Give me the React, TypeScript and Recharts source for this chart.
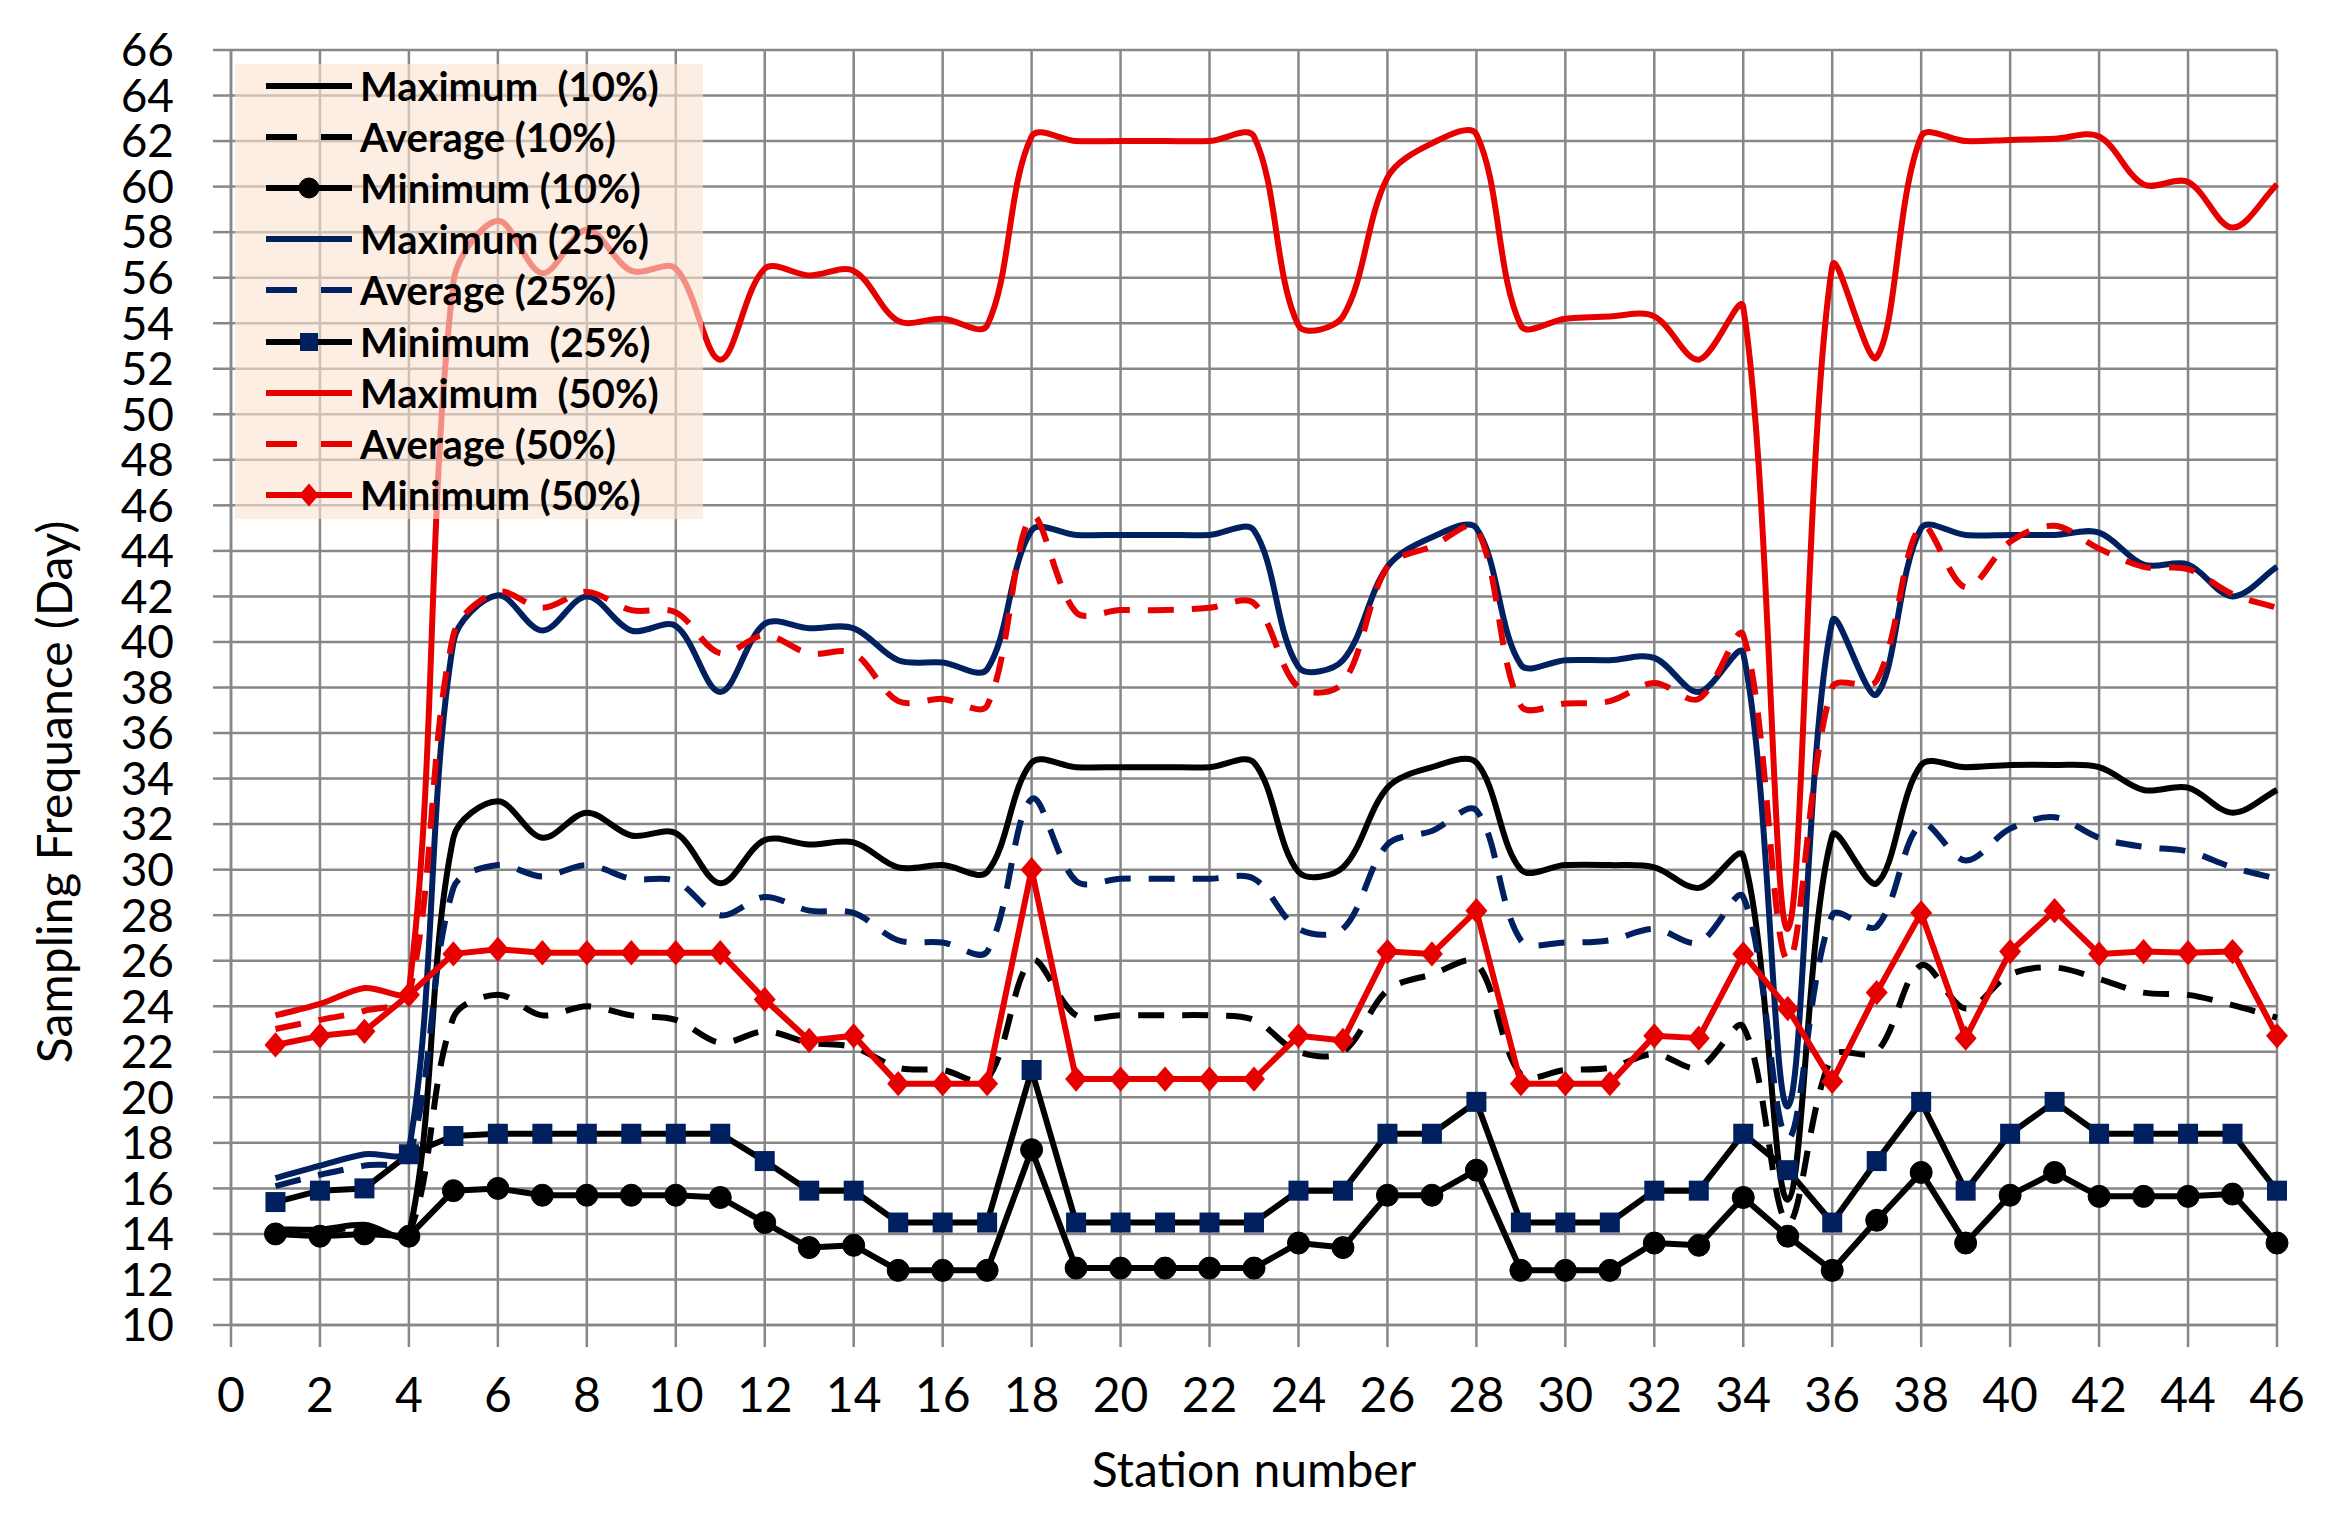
import React from 'react';
import { LineChart, Line, XAxis, YAxis, CartesianGrid, Legend } from 'recharts';

// ---------------- data ----------------
const stations = [1, 2, 3, 4, 5, 6, 7, 8, 9, 10, 11, 12, 13, 14, 15, 16, 17, 18, 19, 20, 21, 22, 23, 24, 25, 26, 27, 28, 29, 30, 31, 32, 33, 34, 35, 36, 37, 38, 39, 40, 41, 42, 43, 44, 45, 46];

const max10 = [14.2, 14.2, 14.4, 14.0, 31.4, 33.0, 31.4, 32.5, 31.5, 31.6, 29.4, 31.3, 31.1, 31.2, 30.1, 30.2, 29.9, 34.7, 34.5, 34.5, 34.5, 34.5, 34.7, 29.9, 30.1, 33.6, 34.5, 34.7, 30.0, 30.2, 30.2, 30.1, 29.2, 30.6, 15.5, 31.5, 29.4, 34.6, 34.5, 34.6, 34.6, 34.5, 33.5, 33.6, 32.5, 33.5];
const avg10 = [14.1, 14.1, 14.3, 14.0, 23.5, 24.5, 23.6, 24.0, 23.6, 23.4, 22.4, 22.9, 22.4, 22.2, 21.3, 21.2, 20.8, 26.0, 23.6, 23.6, 23.6, 23.6, 23.4, 22.0, 22.0, 24.7, 25.4, 25.9, 21.0, 21.2, 21.3, 21.9, 21.3, 23.1, 14.5, 21.8, 22.0, 25.8, 23.9, 25.4, 25.7, 25.2, 24.6, 24.5, 24.05, 23.5];
const min10 = [14.0, 13.9, 14.0, 13.9, 15.9, 16.0, 15.7, 15.7, 15.7, 15.7, 15.6, 14.5, 13.4, 13.5, 12.4, 12.4, 12.4, 17.7, 12.5, 12.5, 12.5, 12.5, 12.5, 13.6, 13.4, 15.7, 15.7, 16.8, 12.4, 12.4, 12.4, 13.6, 13.5, 15.6, 13.9, 12.4, 14.6, 16.7, 13.6, 15.7, 16.7, 15.65, 15.65, 15.65, 15.75, 13.6];
const max25 = [16.45, 17.0, 17.5, 17.7, 40.0, 42.05, 40.5, 42.0, 40.5, 40.7, 37.8, 40.8, 40.6, 40.6, 39.2, 39.1, 38.8, 44.9, 44.7, 44.7, 44.7, 44.7, 44.9, 38.9, 39.2, 43.3, 44.6, 45.0, 39.0, 39.2, 39.2, 39.3, 37.8, 39.5, 19.6, 40.9, 37.7, 45.0, 44.7, 44.7, 44.7, 44.8, 43.4, 43.4, 42.0, 43.3];
const avg25 = [16.1, 16.6, 17.0, 17.4, 29.2, 30.2, 29.7, 30.2, 29.6, 29.5, 28.0, 28.8, 28.2, 28.1, 26.9, 26.8, 26.4, 33.1, 29.5, 29.6, 29.6, 29.6, 29.6, 27.4, 27.4, 31.1, 31.7, 32.6, 26.9, 26.8, 26.9, 27.4, 26.8, 28.8, 18.2, 28.0, 27.5, 32.0, 30.4, 31.8, 32.3, 31.4, 31.0, 30.8, 30.1, 29.6];
const min25 = [15.4, 15.9, 16.0, 17.5, 18.3, 18.4, 18.4, 18.4, 18.4, 18.4, 18.4, 17.2, 15.9, 15.9, 14.5, 14.5, 14.5, 21.2, 14.5, 14.5, 14.5, 14.5, 14.5, 15.9, 15.9, 18.4, 18.4, 19.8, 14.5, 14.5, 14.5, 15.9, 15.9, 18.4, 16.8, 14.5, 17.2, 19.8, 15.9, 18.4, 19.8, 18.4, 18.4, 18.4, 18.4, 15.9];
const max50 = [23.6, 24.1, 24.8, 24.7, 55.8, 58.5, 56.2, 58.1, 56.3, 56.4, 52.4, 56.4, 56.1, 56.3, 54.1, 54.2, 53.9, 62.2, 62.0, 62.0, 62.0, 62.0, 62.2, 53.9, 54.3, 60.4, 61.9, 62.3, 53.9, 54.2, 54.3, 54.3, 52.4, 54.7, 27.4, 56.5, 52.5, 62.2, 62.0, 62.05, 62.1, 62.2, 60.1, 60.2, 58.2, 60.1];
const avg50 = [23.0, 23.4, 23.8, 24.5, 40.3, 42.2, 41.5, 42.2, 41.4, 41.3, 39.5, 40.3, 39.5, 39.5, 37.4, 37.5, 37.2, 45.5, 41.3, 41.4, 41.4, 41.5, 41.7, 38.0, 38.2, 43.3, 44.2, 45.0, 37.2, 37.3, 37.4, 38.2, 37.5, 40.3, 26.0, 38.0, 38.3, 45.1, 42.4, 44.4, 45.1, 44.1, 43.3, 43.2, 42.1, 41.5];
const min50 = [22.3, 22.7, 22.9, 24.5, 26.3, 26.5, 26.35, 26.35, 26.35, 26.35, 26.35, 24.3, 22.5, 22.7, 20.6, 20.6, 20.6, 30.0, 20.8, 20.8, 20.8, 20.8, 20.8, 22.7, 22.5, 26.4, 26.3, 28.2, 20.6, 20.6, 20.6, 22.7, 22.6, 26.3, 23.9, 20.7, 24.6, 28.1, 22.6, 26.4, 28.2, 26.3, 26.4, 26.35, 26.4, 22.7];

const xTicks = [0, 2, 4, 6, 8, 10, 12, 14, 16, 18, 20, 22, 24, 26, 28, 30, 32, 34, 36, 38, 40, 42, 44, 46];
const yTicks = [10, 12, 14, 16, 18, 20, 22, 24, 26, 28, 30, 32, 34, 36, 38, 40, 42, 44, 46, 48, 50, 52, 54, 56, 58, 60, 62, 64, 66];

const data = stations.map((s, i) => ({
  station: s,
  max10: max10[i], avg10: avg10[i], min10: min10[i],
  max25: max25[i], avg25: avg25[i], min25: min25[i],
  max50: max50[i], avg50: avg50[i], min50: min50[i],
}));

// ---------------- styles ----------------
const BLACK = '#000000';
const NAVY = '#002060';
const RED = '#E60000';
const GRID = '#878787';
const FONT = 'Lato, "Open Sans", sans-serif';

// Excel-like smoothing: Catmull-Rom tangents, arms scaled by chord lengths
const smoothCurve: any = (context: any) => {
  let pts: number[][] = [];
  const dist = (a: number[], b: number[]) => Math.hypot(b[0] - a[0], b[1] - a[1]);
  return {
    areaStart() {},
    areaEnd() {},
    lineStart() { pts = []; },
    point(x: number, y: number) { pts.push([+x, +y]); },
    lineEnd() {
      const n = pts.length;
      if (!n) return;
      context.moveTo(pts[0][0], pts[0][1]);
      for (let i = 0; i < n - 1; i++) {
        const p0 = pts[i - 1] || pts[i];
        const p1 = pts[i];
        const p2 = pts[i + 1];
        const p3 = pts[i + 2] || p2;
        const d01 = dist(p0, p1);
        const d12 = dist(p1, p2);
        const d23 = dist(p2, p3);
        const f1 = d01 + d12 > 0 ? d12 / (d01 + d12) / 3 : 0;
        const f2 = d12 + d23 > 0 ? d12 / (d12 + d23) / 3 : 0;
        context.bezierCurveTo(
          p1[0] + (p2[0] - p0[0]) * f1, p1[1] + (p2[1] - p0[1]) * f1,
          p2[0] - (p3[0] - p1[0]) * f2, p2[1] - (p3[1] - p1[1]) * f2,
          p2[0], p2[1]
        );
      }
    },
  };
};

type Marker = 'circle' | 'square' | 'diamond' | null;
interface SeriesCfg { key: string; name: string; color: string; dash: boolean; marker: Marker; markerColor: string; }

const SERIES: SeriesCfg[] = [
  { key: 'max10', name: 'Maximum  (10%)', color: BLACK, dash: false, marker: null, markerColor: BLACK },
  { key: 'avg10', name: 'Average (10%)', color: BLACK, dash: true, marker: null, markerColor: BLACK },
  { key: 'min10', name: 'Minimum (10%)', color: BLACK, dash: false, marker: 'circle', markerColor: BLACK },
  { key: 'max25', name: 'Maximum (25%)', color: NAVY, dash: false, marker: null, markerColor: NAVY },
  { key: 'avg25', name: 'Average (25%)', color: NAVY, dash: true, marker: null, markerColor: NAVY },
  { key: 'min25', name: 'Minimum  (25%)', color: BLACK, dash: false, marker: 'square', markerColor: NAVY },
  { key: 'max50', name: 'Maximum  (50%)', color: RED, dash: false, marker: null, markerColor: RED },
  { key: 'avg50', name: 'Average (50%)', color: RED, dash: true, marker: null, markerColor: RED },
  { key: 'min50', name: 'Minimum (50%)', color: RED, dash: false, marker: 'diamond', markerColor: RED },
];

const DASH = '26 18';
const LINE_W = 6;

function markerShape(kind: Marker, cx: number, cy: number, color: string, size: number, key?: any) {
  if (kind === 'circle') return <circle key={key} cx={cx} cy={cy} r={size} fill={color} stroke={color} strokeWidth={1} />;
  if (kind === 'square') return <rect key={key} x={cx - size} y={cy - size} width={size * 2} height={size * 2} fill={color} />;
  if (kind === 'diamond') return (
    <path key={key} d={`M${cx},${cy - size * 1.15} L${cx + size},${cy} L${cx},${cy + size * 1.15} L${cx - size},${cy} Z`} fill={color} />
  );
  return <g key={key} />;
}

const makeDot = (cfg: SeriesCfg) => (props: any) => {
  const { cx, cy, index } = props;
  if (cx == null || cy == null) return <g key={`d-${cfg.key}-${index}`} />;
  const size = cfg.marker === 'circle' ? 11 : cfg.marker === 'square' ? 10 : 11;
  return markerShape(cfg.marker, cx, cy, cfg.markerColor, size, `d-${cfg.key}-${index}`);
};

const renderLegend = (props: any) => {
  const payload: any[] = props.payload || [];
  const items = SERIES.map((cfg) => {
    const p = payload.find((e) => e.dataKey === cfg.key);
    return { cfg, label: p ? p.value : cfg.name };
  });
  return (
    <div style={{ width: 468, height: 455, background: 'rgba(251, 228, 212, 0.62)', position: 'relative' }}>
      {items.map(({ cfg, label }, i) => (
        <div key={cfg.key} style={{ position: 'absolute', left: 0, top: 22 + i * 51.1 - 25, height: 50, width: 468, display: 'flex', alignItems: 'center' }}>
          <svg width={125} height={50} style={{ display: 'block', flex: 'none' }}>
            <line x1={31} x2={117} y1={25} y2={25} stroke={cfg.color} strokeWidth={LINE_W} strokeDasharray={cfg.dash ? '31 24' : undefined} />
            {cfg.marker ? markerShape(cfg.marker, 74, 25, cfg.markerColor, cfg.marker === 'square' ? 9 : 10) : null}
          </svg>
          <span style={{ whiteSpace: 'pre', fontFamily: FONT, fontWeight: 700, fontSize: 40, color: '#000', lineHeight: '50px' }}>{label}</span>
        </div>
      ))}
    </div>
  );
};

const YTitle = () => (
  <text x={72} y={792} transform="rotate(-90, 72, 792)" textAnchor="middle" fontFamily={FONT} fontSize={48} fill="#000">
    Sampling Frequance (Day)
  </text>
);

export default function App() {
  return (
    <div style={{ position: 'absolute', left: 0, top: 0, width: 2331, height: 1519, background: '#fff' }}>
      <LineChart width={2331} height={1519} data={data} margin={{ top: 50, right: 54, left: 0, bottom: 0 }}>
        <CartesianGrid stroke={GRID} strokeWidth={2.5} horizontal vertical />
        <XAxis
          dataKey="station"
          type="number"
          domain={[0, 46]}
          ticks={xTicks}
          interval={0}
          height={194}
          tickSize={22}
          tickMargin={31}
          axisLine={{ stroke: GRID, strokeWidth: 2.5 }}
          tickLine={{ stroke: GRID, strokeWidth: 2.5 }}
          tick={{ fill: '#000', fontSize: 48, fontFamily: FONT }}
          label={{ value: 'Station number', position: 'insideBottom', offset: 32, fill: '#000', fontSize: 48, fontFamily: FONT }}
        />
        <YAxis
          type="number"
          domain={[10, 66]}
          ticks={yTicks}
          interval={0}
          width={231}
          tickSize={18}
          tickMargin={39}
          axisLine={{ stroke: GRID, strokeWidth: 2.5 }}
          tickLine={{ stroke: GRID, strokeWidth: 2.5 }}
          tick={{ fill: '#000', fontSize: 46, fontFamily: FONT }}
          label={<YTitle />}
        />
        <Legend
          layout="vertical"
          align="center"
          verticalAlign="middle"
          content={renderLegend}
          wrapperStyle={{ left: 235, top: 64, width: 468, height: 455 }}
        />
        {SERIES.map((cfg) => (
          <Line
            key={cfg.key}
            dataKey={cfg.key}
            name={cfg.name}
            stroke={cfg.color}
            strokeWidth={LINE_W}
            strokeDasharray={cfg.dash ? DASH : undefined}
            strokeLinejoin="round"
            type={cfg.marker ? 'linear' : smoothCurve}
            dot={cfg.marker ? makeDot(cfg) : false}
            activeDot={false}
            isAnimationActive={false}
            legendType="line"
          />
        ))}
      </LineChart>
    </div>
  );
}
